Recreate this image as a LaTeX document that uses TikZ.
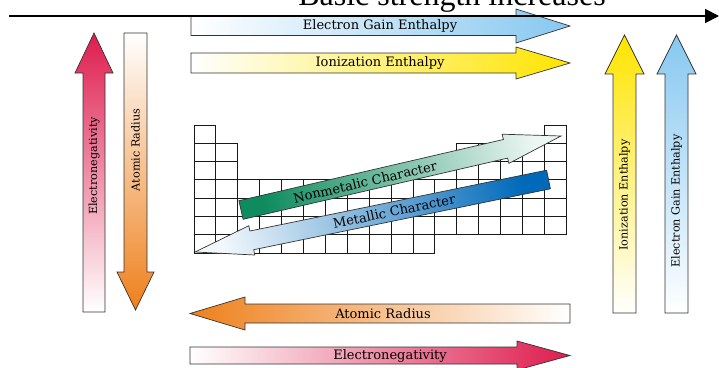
\documentclass[tikz,border=0pt]{standalone}
\usepackage{fontspec}
\setmainfont{Liberation Serif}
\newfontfamily\lblfont{DejaVu Serif}
\usetikzlibrary{arrows.meta}
\definecolor{engred}{RGB}{222,28,78}
\definecolor{radorange}{RGB}{238,128,28}
\definecolor{ieyellow}{RGB}{255,228,0}
\definecolor{egblue}{RGB}{135,200,240}
\definecolor{nmgreen}{RGB}{15,140,95}
\definecolor{metblue}{RGB}{0,105,185}
\begin{document}
\begin{tikzpicture}[x=1pt,y=-1pt,
    blk/.style={draw=black!80,line width=0.7pt},
    hlbl/.style={font=\lblfont\fontsize{13}{13}\selectfont,inner sep=0pt},
    vlbl/.style={font=\lblfont\fontsize{11.2}{11.2}\selectfont,inner sep=0pt,rotate=90},
    cell/.style={draw=black!90,line width=1pt}]
    \useasboundingbox (0,0) rectangle (719,367);
    % 周期表网格
    \foreach \r in {0,...,6} \draw[cell] (194,125+18.3*\r) rectangle ++(21.9,18.3);%第1列
    \foreach \r in {1,...,6} \draw[cell] (215.9,125+18.3*\r) rectangle ++(21.9,18.3);%第2列
    \foreach \c in {2,...,10} \foreach \r in {3,...,6}
        \draw[cell] (194+21.9*\c,125+18.3*\r) rectangle ++(21.9,18.3);
    \foreach \r in {3,...,5} \draw[cell] (434.9,125+18.3*\r) rectangle ++(21.9,18.3);
    \foreach \c in {12,...,16} \foreach \r in {1,...,5}
        \draw[cell] (194+21.9*\c,125+18.3*\r) rectangle ++(21.9,18.3);
    \draw[cell] (544.4,125) rectangle ++(21.9,18.3);%右上角单格
    % 上方两个横箭头
    \draw[blk,left color=white,right color=egblue]
        (191,16.5) -- (516,16.5) -- (516,9) -- (570,26) -- (516,43) -- (516,35.5) -- (191,35.5) -- cycle;
    \node[hlbl] (egtop) at (380,26) {Electron Gain Enthalpy};
    \draw[blk,left color=white,right color=ieyellow]
        (191,53) -- (516,53) -- (516,47) -- (570,63) -- (516,79) -- (516,73) -- (191,73) -- cycle;
    \node[hlbl] (ietop) at (380,63) {Ionization Enthalpy};
    % 左侧两个竖箭头
    \draw[blk,bottom color=white,top color=engred]
        (83,312) -- (83,73) -- (75,73) -- (94,33) -- (113,73) -- (105,73) -- (105,312) -- cycle;
    \node[vlbl] (enleft) at (94,166) {Electronegativity};
    \draw[blk,top color=white,bottom color=radorange]
        (124,33) -- (147,33) -- (147,272) -- (154,272) -- (135.5,310) -- (117,272) -- (124,272) -- cycle;
    \node[vlbl] (arleft) at (135.5,150) {Atomic Radius};
    % 右侧两个竖箭头
    \draw[blk,bottom color=white,top color=ieyellow]
        (613,313) -- (613,74) -- (605,74) -- (624.5,35) -- (644,74) -- (636,74) -- (636,313) -- cycle;
    \node[vlbl] (ieright) at (624.5,195) {Ionization Enthalpy};
    \draw[blk,bottom color=white,top color=egblue]
        (665,313) -- (665,74) -- (657,74) -- (676.5,35) -- (696,74) -- (688,74) -- (688,313) -- cycle;
    \node[vlbl] (egright) at (676.5,201) {Electron Gain Enthalpy};
    % 下方两个横箭头
    \draw[blk,left color=radorange,right color=white]
        (570,304) -- (245,304) -- (245,297) -- (190,313.5) -- (245,330) -- (245,323) -- (570,323) -- cycle;
    \node[hlbl] (arbot) at (383,313.5) {Atomic Radius};
    \draw[blk,left color=white,right color=engred]
        (190,347) -- (517,347) -- (517,341) -- (570,355.5) -- (517,370) -- (517,364) -- (190,364) -- cycle;
    \node[hlbl] (enbot) at (390,355.5) {Electronegativity};
    % 网格上的两个斜箭头
    \draw[blk,top color=nmgreen,bottom color=white!92!nmgreen,shading angle=103]
        (238.9,200.7) -- (503.4,139.5) -- (502.1,134.2) -- (561,136) -- (508.9,163.4) -- (507.6,158.1) -- (243.1,219.3) -- cycle;
    \node[hlbl,rotate=13] (nonmet) at (365,182) {Nonmetalic Character};
    \draw[blk,top color=metblue,bottom color=white!95!metblue,shading angle=-78.4]
        (546.6,170.2) -- (249.9,231.0) -- (248.8,225.7) -- (195,252) -- (254.8,255.0) -- (253.7,249.7) -- (550.4,188.8) -- cycle;
    \node[hlbl,rotate=11.6] (met) at (394,211.2) {Metallic Character};
    % 顶部坐标轴和标题(标题上半部分在图外,与原图一致)
    \node[anchor=base,font=\fontsize{32}{32}\selectfont,inner sep=0pt] (title) at (452,5) {Basic strength increases};
    \coordinate (axl) at (9,16);
    \coordinate (axr) at (719,16);
    \draw[line width=1.8pt,-{Triangle[length=14pt,width=14pt]}] (axl) -- (axr);
\end{tikzpicture}
\end{document}
